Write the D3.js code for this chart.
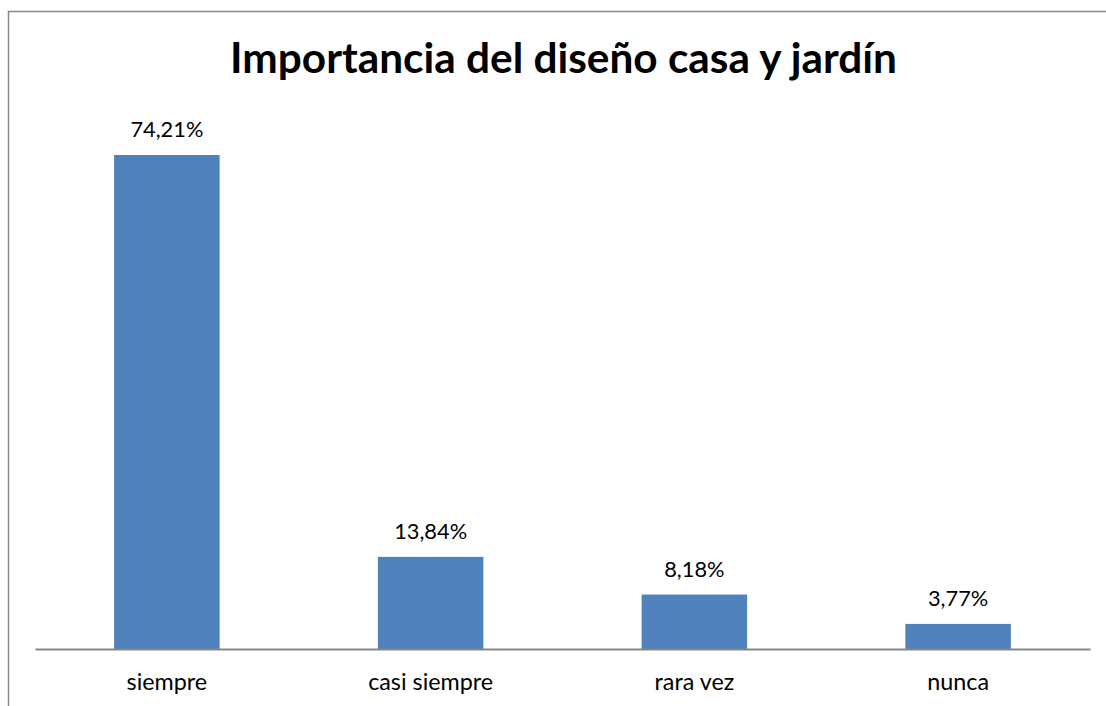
<!DOCTYPE html>
<html>
<head>
<meta charset="utf-8">
<script src="https://cdn.jsdelivr.net/npm/d3@7"></script>
<style>
  html, body { margin: 0; padding: 0; background: #fff; }
  svg { display: block; }
</style>
</head>
<body>
<script>
const categories = ["siempre", "casi siempre", "rara vez", "nunca"];
const values = [74.21, 13.84, 8.18, 3.77];
const valueLabels = ["74,21%", "13,84%", "8,18%", "3,77%"];
const title = "Importancia del diseño casa y jardín";

const W = 1106, H = 706;
const svg = d3.select("body").append("svg").attr("width", W).attr("height", H);
const font = "Lato, 'Open Sans', sans-serif";

// outer border (left and top visible)
svg.append("path")
  .attr("d", "M8.5,706 L8.5,11.5 L1106,11.5")
  .attr("fill", "none").attr("stroke", "#868686").attr("stroke-width", 1.5);

const x = d3.scaleBand().domain(categories).range([35, 1090]).paddingInner(0.6).paddingOuter(0.3);
const y = d3.scaleLinear().domain([0, 80]).range([649, 116.5]);

function fit(sel, target) {
  const w = sel.node().getComputedTextLength();
  const fs = parseFloat(sel.attr("font-size"));
  sel.attr("font-size", fs * target / w);
}

svg.append("g").selectAll("rect").data(values).join("rect")
  .attr("x", (d, i) => x(categories[i]))
  .attr("width", x.bandwidth())
  .attr("y", d => y(d))
  .attr("height", d => y(0) - y(d))
  .attr("fill", "#4f81bd");

// axis
const axis = svg.append("g").attr("transform", `translate(0,${y(0)})`)
  .call(d3.axisBottom(x).tickSize(0).tickPadding(0));
axis.select(".domain").attr("stroke", "#868686").attr("stroke-width", 2);
axis.selectAll("text").remove();

// category labels
const cat = svg.append("g").selectAll("text").data(categories).join("text")
  .attr("x", d => x(d) + x.bandwidth() / 2)
  .attr("y", 689.5)
  .attr("text-anchor", "middle")
  .attr("font-family", font)
  .attr("font-size", 20)
  .attr("fill", "#000")
  .text(d => d);
{
  const n = cat.nodes()[1];
  const s = 20 * 125 / n.getComputedTextLength();
  cat.attr("font-size", s);
}

// value labels
const vl = svg.append("g").selectAll("text").data(values).join("text")
  .attr("x", (d, i) => x(categories[i]) + x.bandwidth() / 2)
  .attr("y", d => y(d) - 18)
  .attr("text-anchor", "middle")
  .attr("font-family", font)
  .attr("font-size", 20)
  .attr("fill", "#000")
  .text((d, i) => valueLabels[i]);
{
  const n = vl.nodes()[0];
  const s = 20 * 73 / n.getComputedTextLength();
  vl.attr("font-size", s);
}

// title
const t = svg.append("text")
  .attr("x", 563.5).attr("y", 73)
  .attr("text-anchor", "middle")
  .attr("font-family", font)
  .attr("font-weight", "bold")
  .attr("font-size", 36)
  .attr("fill", "#000")
  .text(title);
fit(t, 667);
</script>
</body>
</html>
